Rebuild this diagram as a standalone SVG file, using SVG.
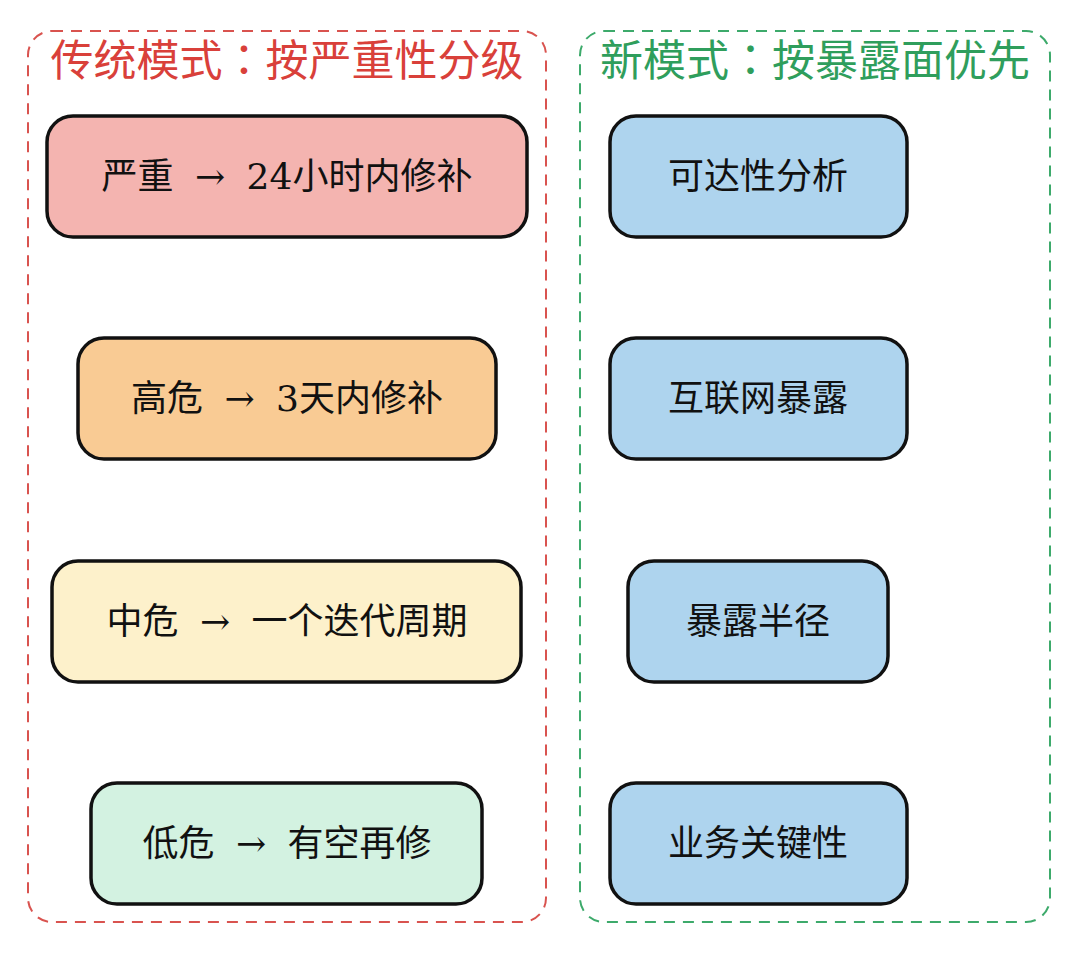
<svg xmlns="http://www.w3.org/2000/svg" width="1080" height="953" viewBox="0 0 1080 953">
<style>
.cl{fill:none;stroke-width:2;stroke-dasharray:11 8}
.red{stroke:#d9534f}
.grn{stroke:#3daa6b}
.title{font-family:"Noto Sans CJK SC","Noto Sans",sans-serif;font-size:43px;text-anchor:middle}
.tc{font-family:"Noto Sans CJK TC","Noto Sans CJK SC",sans-serif}
.node rect{stroke:#111;stroke-width:3.5}
.node text{font-family:"DejaVu Serif","Noto Sans CJK SC",serif;font-size:36px;fill:#111;text-anchor:middle;word-spacing:10px}
.cjk{font-family:"Noto Sans CJK SC","Noto Sans",sans-serif !important}
</style>
<rect width="1080" height="953" fill="#ffffff"/>
<g id="cluster-traditional">
<rect class="cl red" x="28" y="31" width="518" height="891" rx="24"/>
<text class="title" x="287" y="76" fill="#d9403a">传统模式<tspan class="tc">：</tspan>按严重性分级</text>
</g>
<g id="cluster-new">
<rect class="cl grn" x="580" y="31" width="470" height="891" rx="24"/>
<text class="title" x="815" y="76" fill="#2f9e5c">新模式<tspan class="tc">：</tspan>按暴露面优先</text>
</g>
<g id="connectors"></g>
<g id="n-critical" class="node">
<rect x="47" y="116" width="480" height="121" rx="26" fill="#f4b4b0"/>
<text x="287" y="189"><tspan class="cjk">严重</tspan> → 24<tspan class="cjk">小时内修补</tspan></text>
</g>
<g id="n-high" class="node">
<rect x="78" y="338" width="418" height="121" rx="26" fill="#f9cb94"/>
<text x="287" y="411"><tspan class="cjk">高危</tspan> → 3<tspan class="cjk">天内修补</tspan></text>
</g>
<g id="n-medium" class="node">
<rect x="52" y="561" width="469" height="121" rx="26" fill="#fdf1cb"/>
<text x="287" y="634"><tspan class="cjk">中危</tspan> → <tspan class="cjk">一个迭代周期</tspan></text>
</g>
<g id="n-low" class="node">
<rect x="91" y="783" width="391" height="121" rx="26" fill="#d3f2e1"/>
<text x="287" y="856"><tspan class="cjk">低危</tspan> → <tspan class="cjk">有空再修</tspan></text>
</g>
<g id="n-reach" class="node">
<rect x="610" y="116" width="297" height="121" rx="26" fill="#aed4ee"/>
<text class="cjk" x="758" y="189">可达性分析</text>
</g>
<g id="n-internet" class="node">
<rect x="610" y="338" width="297" height="121" rx="26" fill="#aed4ee"/>
<text class="cjk" x="758" y="411">互联网暴露</text>
</g>
<g id="n-radius" class="node">
<rect x="628" y="561" width="260" height="121" rx="26" fill="#aed4ee"/>
<text class="cjk" x="758" y="634">暴露半径</text>
</g>
<g id="n-business" class="node">
<rect x="610" y="783" width="297" height="121" rx="26" fill="#aed4ee"/>
<text class="cjk" x="758" y="856">业务关键性</text>
</g>
</svg>
